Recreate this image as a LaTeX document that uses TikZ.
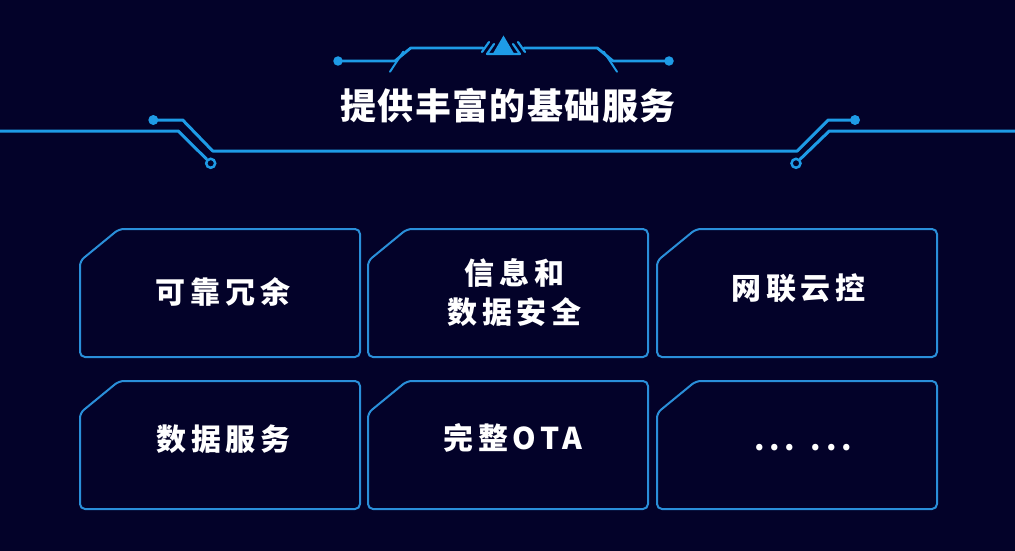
\documentclass[tikz,border=0pt]{standalone}
\usepackage{fontspec}
\setmainfont{Noto Sans CJK SC}
\newfontfamily\titlefont[LetterSpace=4]{Noto Sans CJK SC}
\newfontfamily\boxfont[LetterSpace=16]{Noto Sans CJK SC}
\definecolor{bg}{HTML}{030229}
\definecolor{wirecol}{HTML}{1E9BE6}
\definecolor{frame}{HTML}{2A8FD9}
\begin{document}
\begin{tikzpicture}[x=1pt,y=-1pt,
  wire/.style={draw=wirecol,line width=3pt,line cap=round,line join=round},
  thinwire/.style={draw=wirecol,line width=2.8pt,line cap=round,line join=round},
  dotfill/.style={circle,fill=wirecol,inner sep=0pt,minimum size=10pt},
  smalldot/.style={circle,fill=wirecol,inner sep=0pt,minimum size=9.5pt},
  ringdot/.style={circle,draw=wirecol,line width=2.5pt,inner sep=0pt,minimum size=9pt},
  boxline/.style={draw=frame,line width=2pt,rounded corners=5pt},
  boxtext/.style={text=white,font=\boxfont\bfseries\fontsize{30}{38.4}\selectfont,align=center,inner sep=0pt},
  titletext/.style={text=white,font=\titlefont\bfseries\fontsize{36}{40}\selectfont,inner sep=0pt}]
\fill[bg] (0,0) rectangle (1015,551);
\useasboundingbox (0,0) rectangle (1015,551);
% ---- top ornament ----
\node[smalldot] (tl) at (338,61) {};
\node[smalldot] (tr) at (669,61) {};
\coordinate (tla) at (395,61);
\coordinate (tlb) at (410.7,48);
\coordinate (tlc) at (483,48);
\coordinate (tra) at (613,61);
\coordinate (trb) at (597.3,48);
\coordinate (trc) at (524,48);
\draw[thinwire] (tl.center) -- (tla) -- (tlb) -- (tlc);
\draw[thinwire] (tr.center) -- (tra) -- (trb) -- (trc);
\draw[thinwire,line width=2pt] (390,71.7) -- (403.3,51.7);
\draw[thinwire,line width=2pt] (617,71.7) -- (603.7,51.7);
\draw[thinwire,line width=2.2pt] (494,44) -- (487,54) -- (520,54) -- (513,44);
\draw[thinwire,line width=2.2pt] (482,52) -- (489,42);
\draw[thinwire,line width=2.2pt] (525,52) -- (518,42);
\fill[wirecol] (503.5,35.5) -- (493,53.5) -- (514,53.5) -- cycle;
% ---- title ----
\node[titletext] (title) at (508,106) {提供丰富的基础服务};
% ---- side circuit lines ----
\node[dotfill] (ld) at (153.3,120) {};
\node[ringdot] (lr) at (210.7,163.3) {};
\node[dotfill] (rd) at (855,120) {};
\node[ringdot] (rr) at (796,163.3) {};
\coordinate (lstart) at (0,131);
\coordinate (rend) at (1015,131);
\draw[wire] (ld.center) -- (182.7,120) -- (212.7,151) -- (797.3,151) -- (828.3,120) -- (rd.center);
\draw[wire] (lstart) -- (178.3,131) -- (lr.north west);
\draw[wire] (rend) -- (829.3,131) -- (rr.north east);
% ---- boxes ----
\foreach \x/\y/\n in {80/229/a, 368/229/b, 657/229/c, 80/381/d, 368/381/e, 657/381/f} {
  \draw[boxline] (\x,\y+32) -- (\x+39,\y) -- (\x+280,\y) -- (\x+280,\y+128) -- (\x,\y+128) -- cycle;
  \coordinate (\n) at (\x+140,\y+64);
}
\node[boxtext] (t1) at (223,292) {可靠冗余};
\node[boxtext] (t2) at (514.5,292.5) {信息和\\数据安全};
\node[boxtext] (t3) at (798.5,288.5) {网联云控};
\node[boxtext] (t4) at (223.5,439) {数据服务};
\node[boxtext] (t5) at (513,437.5) {完整OTA};
\node[boxtext,anchor=base] (t6) at (803,450) {... ...};
\end{tikzpicture}
\end{document}
